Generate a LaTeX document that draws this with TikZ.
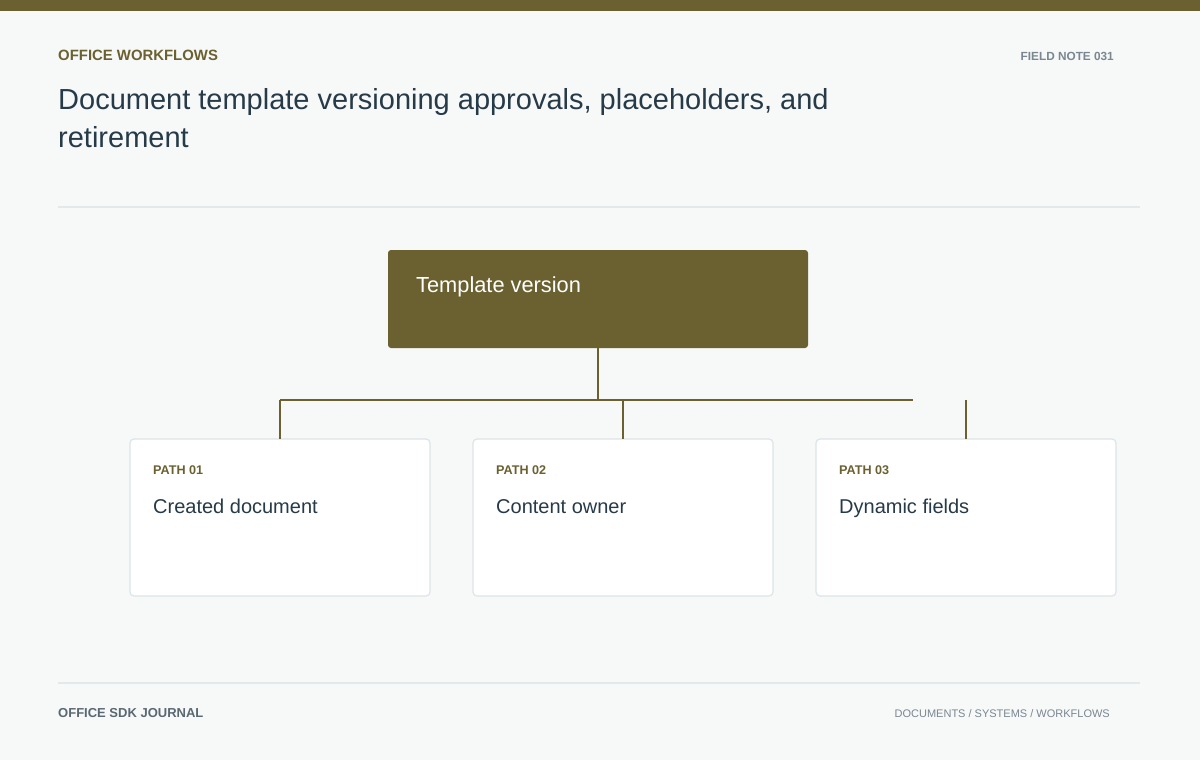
\documentclass[tikz,border=0pt]{standalone}
\usepackage{fontspec}
\setmainfont{Liberation Sans}
\definecolor{olive}{HTML}{6A6030}
\definecolor{bg}{HTML}{F7F9F9}
\definecolor{ink}{HTML}{263A48}
\definecolor{muted}{HTML}{7A8690}
\definecolor{footink}{HTML}{5A6872}
\definecolor{cardline}{HTML}{DCE5E8}
\definecolor{rule}{HTML}{E3E8EA}
\tikzset{
  cardbox/.style={draw=cardline, line width=1.2pt, fill=white, rounded corners=4pt},
  conn/.style={draw=olive, line width=1.6pt},
  kicker/.style={anchor=base west, inner sep=0pt, text=olive, font=\bfseries\fontsize{12.6}{14}\selectfont},
  cardtitle/.style={anchor=base west, inner sep=0pt, text=ink, font=\fontsize{20}{24}\selectfont},
}
\begin{document}
\begin{tikzpicture}[x=1pt,y=-1pt]
\useasboundingbox (0,0) rectangle (1200,760);
\fill[bg] (0,0) rectangle (1200,760);
\fill[olive] (0,0) rectangle (1200,11);
\node[anchor=base west, inner sep=0pt, text=olive, font=\bfseries\fontsize{14.9}{16}\selectfont] (kick) at (58,60) {OFFICE WORKFLOWS};
\node[anchor=base east, inner sep=0pt, text=muted, font=\bfseries\fontsize{11.8}{13}\selectfont] (fn) at (1114,60) {FIELD NOTE 031};
\node[anchor=base west, inner sep=0pt, text=ink, font=\fontsize{29}{34}\selectfont] (t1) at (58,110) {Document template versioning approvals, placeholders, and};
\node[anchor=base west, inner sep=0pt, text=ink, font=\fontsize{29}{34}\selectfont] (t2) at (58,147) {retirement};
\draw[rule, line width=1.5pt] (58,207) -- (1140,207);
% top box
\path[fill=olive, rounded corners=3pt] (388,250) rectangle (808,348);
\coordinate (top) at (598,348);
\node[anchor=base west, inner sep=0pt, text=white, font=\fontsize{21.8}{26}\selectfont] (tv) at (416,292) {Template version};
% cards
\path[cardbox] (130,439) rectangle (430,596);
\path[cardbox] (473,439) rectangle (773,596);
\path[cardbox] (816,439) rectangle (1116,596);
\coordinate (c1) at (280,439);
\coordinate (c2) at (623,439);
\coordinate (c3) at (966,439);
\coordinate (j) at (598,400);
\coordinate (hl) at (280,400);
\coordinate (hr) at (913,400);
\coordinate (j2) at (623,400);
\coordinate (j3) at (966,400);
\draw[conn] (top) -- (j);
\draw[conn] (hl) -- (hr);
\draw[conn] (hl) -- (c1);
\draw[conn] (j2) -- (c2);
\draw[conn] (j3) -- (c3);
\node[kicker] (k1) at (153,474) {PATH 01};
\node[kicker] (k2) at (496,474) {PATH 02};
\node[kicker] (k3) at (839,474) {PATH 03};
\node[cardtitle] (n1) at (153,513) {Created document};
\node[cardtitle] (n2) at (496,513) {Content owner};
\node[cardtitle] (n3) at (839,513) {Dynamic fields};
% footer
\draw[rule, line width=1.5pt] (58,683) -- (1140,683);
\node[anchor=base west, inner sep=0pt, text=footink, font=\bfseries\fontsize{13}{15}\selectfont] (f1) at (58,717) {OFFICE SDK JOURNAL};
\node[anchor=base east, inner sep=0pt, text=muted, font=\fontsize{11}{13}\selectfont] (f2) at (1110,717) {DOCUMENTS / SYSTEMS / WORKFLOWS};
\end{tikzpicture}
\end{document}
